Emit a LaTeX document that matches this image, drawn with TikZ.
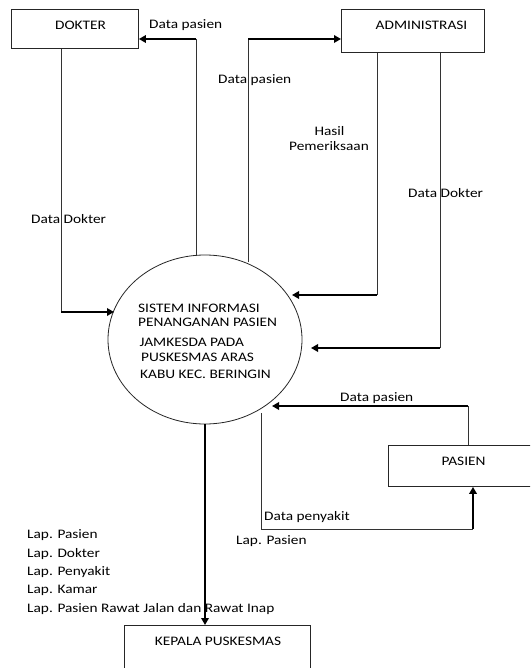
\documentclass[tikz,border=0pt]{standalone}
\usepackage{fontspec}
\setmainfont{Carlito}[FakeStretch=1.18]
\usetikzlibrary{shapes.geometric,arrows.meta}
\tikzset{
  box/.style={draw=black!85, line width=0.9pt, rectangle, inner sep=0pt, anchor=north west},
  txt/.style={inner sep=0pt, anchor=base, font=\fontsize{13}{15.6}\selectfont},
  txtw/.style={txt, anchor=base west},
  thinline/.style={draw=black!80, line width=0.9pt},
  thickarrow/.style={draw=black, line width=2pt, -{Triangle[length=7pt,width=7.5pt]}},
}
\begin{document}
\begin{tikzpicture}[x=1pt,y=-1pt]
\useasboundingbox (0,0) rectangle (530,668);
\clip (0,0) rectangle (530,668);
\fill[white] (0,0) rectangle (530,668);

% boxes
\node[box, minimum width=127pt, minimum height=39pt] (dokter) at (11,9) {};
\node[box, minimum width=143pt, minimum height=43pt] (admin) at (341,9) {};
\node[box, minimum width=150pt, minimum height=41pt] (pasien) at (388,445) {};
\node[box, minimum width=186pt, minimum height=50pt] (kepala) at (124,625) {};
\node[txt] (tdokter) at (80.5,29.2) {DOKTER};
\node[txt] (tadmin) at (421.5,29.2) {ADMINISTRASI};
\node[txt] (tpasien) at (463.5,465.2) {PASIEN};
\node[txt] (tkepala) at (218,645.2) {KEPALA PUSKESMAS};

% process
\node[ellipse, draw=black!85, line width=0.8pt, minimum width=194pt, minimum height=169pt, inner sep=0pt] (proc) at (205,339.5) {};
\node[txtw] (l1) at (138,312) {SISTEM INFORMASI};
\node[txtw] (l2) at (138,326.5) {PENANGANAN PASIEN};
\node[txtw] (l3) at (139.5,346) {JAMKESDA PADA};
\node[txtw] (l4) at (141,361) {PUSKESMAS ARAS};
\node[txtw] (l5) at (140,378.5) {KABU KEC. BERINGIN};

% 1: process -> DOKTER
\coordinate (p1) at (196,256);
\coordinate (a1) at (196,39);
\draw[thinline] (p1) -- (a1);
\draw[thickarrow] (a1) -- (a1 -| dokter.east);
\node[txtw] (lb1) at (149,29) {Data pasien};

% 2: process -> ADMINISTRASI
\coordinate (p2) at (248,262);
\coordinate (a2) at (248,39);
\draw[thinline] (p2) -- (a2);
\draw[thickarrow] (a2) -- (a2 -| admin.west);
\node[txtw] (lb2) at (218,84) {Data pasien};

% 3: DOKTER -> process
\coordinate (a3) at (61,312);
\coordinate (e3) at (114,312);
\draw[thinline] (dokter.south -| a3) -- (a3);
\draw[thickarrow] (a3) -- (e3);
\node[txtw] (lb3) at (31,223) {Data Dokter};

% 4: ADMINISTRASI -> process (Hasil Pemeriksaan)
\coordinate (a4) at (377,295);
\coordinate (e4) at (292,295);
\draw[thinline] (admin.south -| a4) -- (a4);
\draw[thickarrow] (a4) -- (e4);
\node[txt] (lb4a) at (329.5,136) {Hasil};
\node[txt] (lb4b) at (329,151) {Pemeriksaan};

% 5: ADMINISTRASI -> process (Data Dokter)
\coordinate (a5) at (440,348);
\coordinate (e5) at (311,348);
\draw[thinline] (admin.south -| a5) -- (a5);
\draw[thickarrow] (a5) -- (e5);
\node[txtw] (lb5) at (408,197) {Data Dokter};

% 6: PASIEN -> process
\coordinate (a6) at (468,406);
\coordinate (e6) at (272,406);
\draw[thinline] (pasien.north -| a6) -- (a6);
\draw[thickarrow] (a6) -- (e6);
\node[txtw] (lb6) at (340,401) {Data pasien};

% 7: process -> PASIEN
\coordinate (s7) at (261,413);
\coordinate (a7) at (261,529);
\coordinate (b7) at (473,529);
\draw[thinline] (s7) -- (a7) -- (b7);
\draw[thickarrow] (b7) -- (b7 |- pasien.south);
\node[txtw] (lb7) at (264,520) {Data penyakit};
\node[txtw] (lb7b) at (236,544) {Lap. Pasien};

% 8: process -> KEPALA PUSKESMAS
\draw[thickarrow] (proc.south) -- (proc.south |- kepala.north);
\node[txtw] (r1) at (27,538) {Lap. Pasien};
\node[txtw] (r2) at (27,557) {Lap. Dokter};
\node[txtw] (r3) at (27,575.5) {Lap. Penyakit};
\node[txtw] (r4) at (27,593.5) {Lap. Kamar};
\node[txtw] (r5) at (27,612) {Lap. Pasien Rawat Jalan dan Rawat Inap};
\end{tikzpicture}
\end{document}
